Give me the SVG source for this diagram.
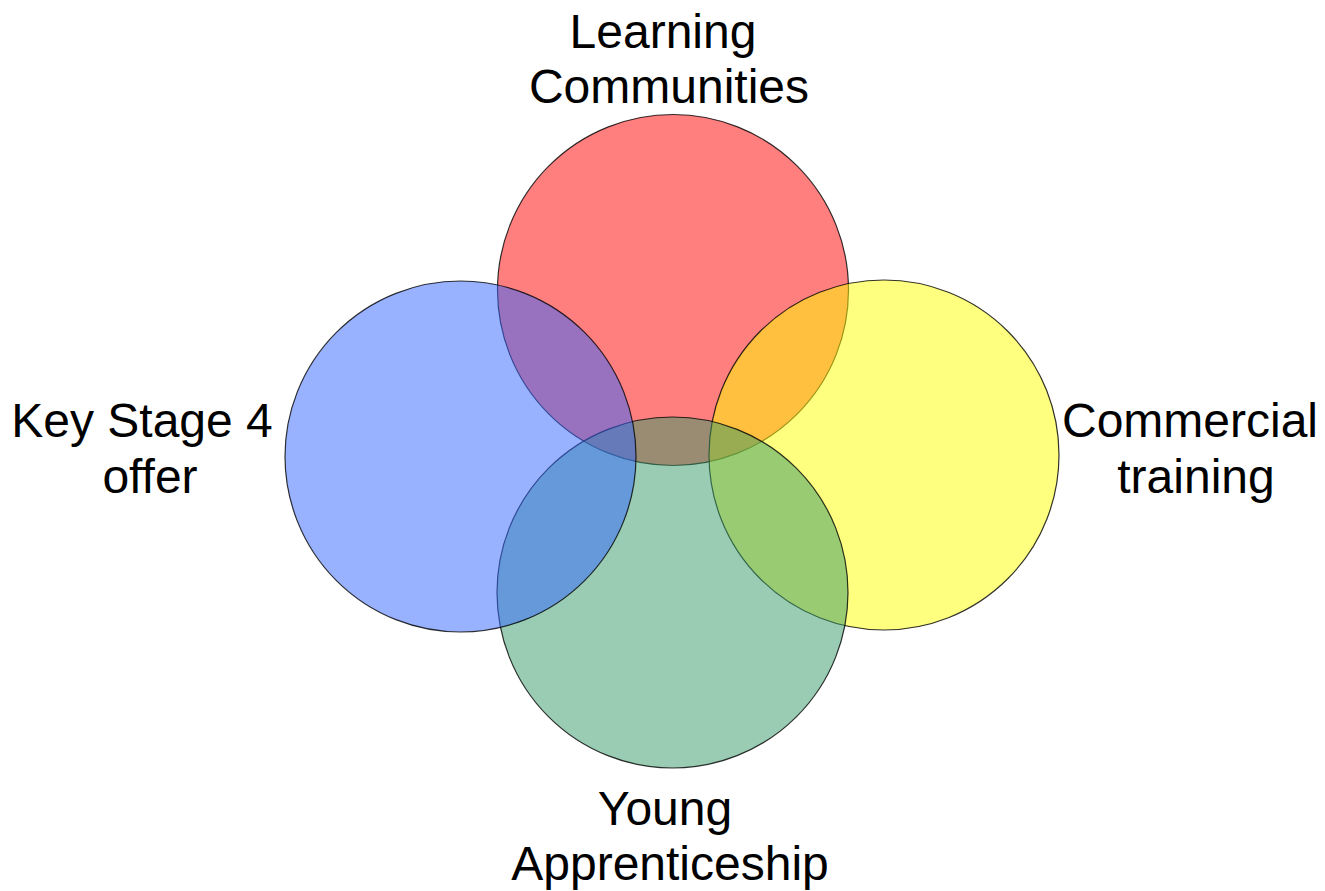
<svg xmlns="http://www.w3.org/2000/svg" width="1325" height="891" viewBox="0 0 1325 891">
<style>
.c{fill-opacity:0.5;stroke:#000;stroke-width:1.2;stroke-opacity:0.8}
.t{font-family:"Liberation Sans",Arial,sans-serif;font-size:48px;fill:#000;text-anchor:middle}
</style>
<rect width="1325" height="891" fill="#fff"/>
<g id="learning-communities">
<circle class="c" cx="673" cy="290" r="175.5" fill="#FF0000"/>
<text class="t" x="663" y="48">Learning</text>
<text class="t" x="669" y="103">Communities</text>
</g>
<g id="commercial-training">
<circle class="c" cx="884" cy="455" r="175" fill="#FFFF00"/>
<text class="t" x="1190" y="437">Commercial</text>
<text class="t" x="1196" y="493">training</text>
</g>
<g id="young-apprenticeship">
<circle class="c" cx="672.5" cy="592.5" r="175.5" fill="#339966"/>
<text class="t" x="665" y="825">Young</text>
<text class="t" x="670" y="880">Apprenticeship</text>
</g>
<g id="key-stage-4">
<circle class="c" cx="460.5" cy="456.5" r="175.5" fill="#3366FF"/>
<text class="t" x="142" y="437">Key Stage 4</text>
<text class="t" x="150" y="493">offer</text>
</g>
<g id="connectors"></g>
</svg>
